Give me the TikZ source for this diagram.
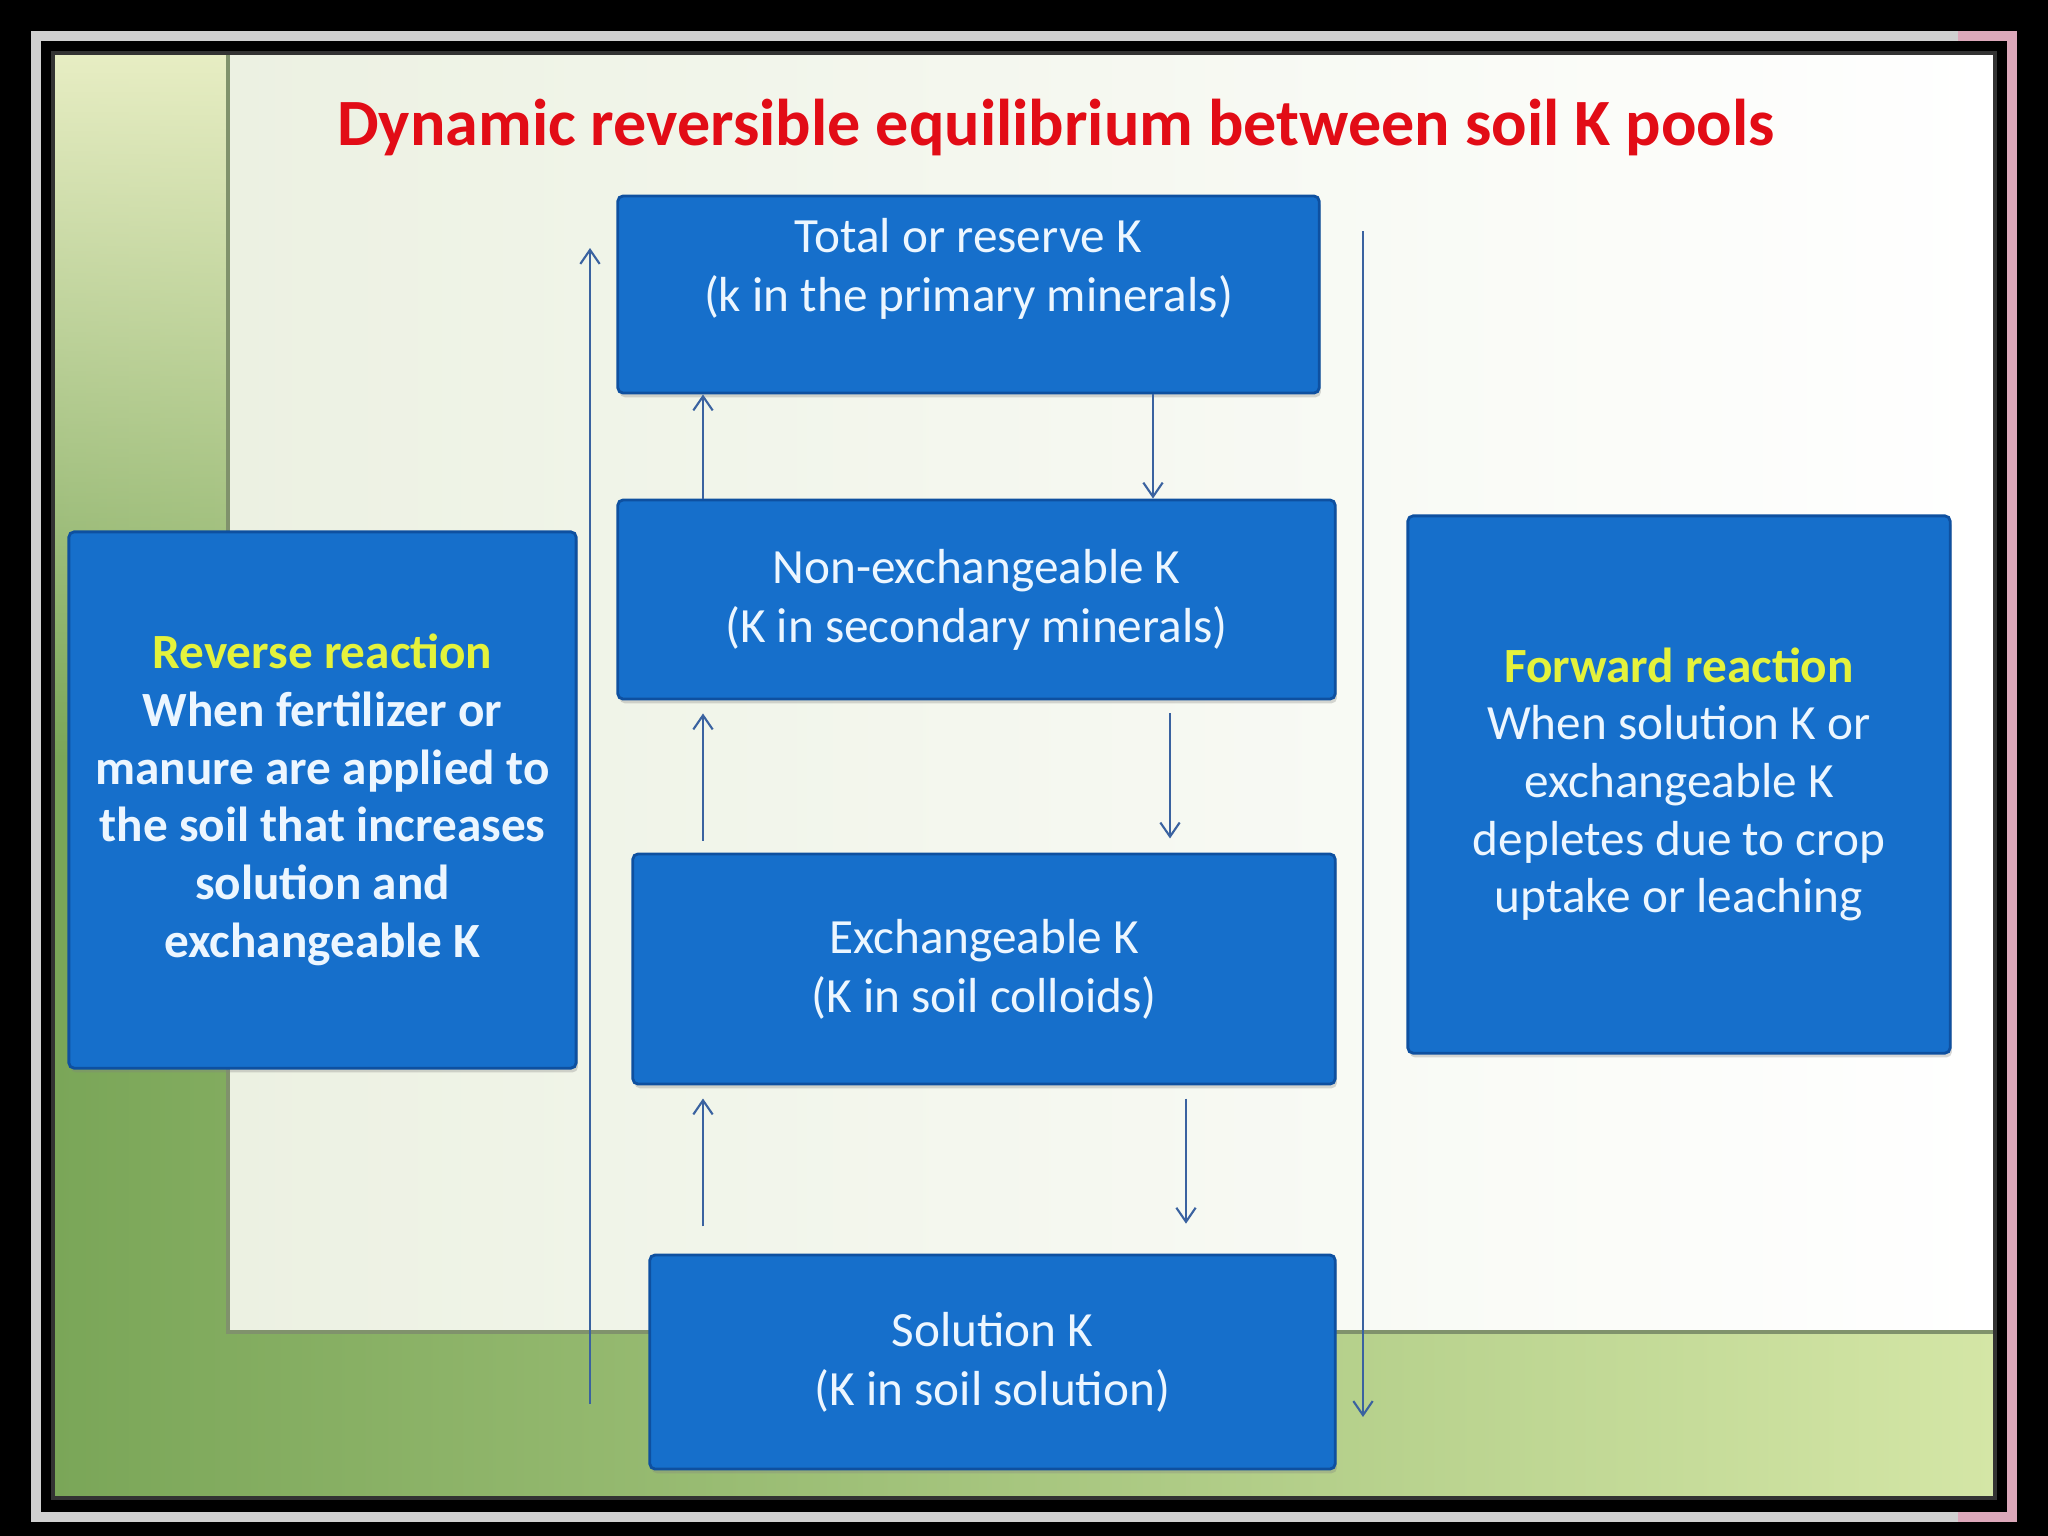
\documentclass[tikz,border=0pt]{standalone}
\usepackage{fontspec}
\setmainfont{Carlito}
\usetikzlibrary{arrows.meta,fadings,shadows}

\definecolor{poolblue}{RGB}{22,111,203}
\definecolor{pooledge}{RGB}{14,80,160}
\definecolor{pooltext}{RGB}{236,246,255}
\definecolor{flowblue}{RGB}{58,98,160}
\definecolor{headred}{RGB}{226,12,22}
\definecolor{notelime}{RGB}{228,242,60}
\definecolor{leafdeep}{RGB}{122,166,88}
\definecolor{leafmist}{RGB}{228,234,218}
\definecolor{leafpale}{RGB}{212,230,166}
\definecolor{leafsun}{RGB}{232,238,196}
\definecolor{panelmist}{RGB}{236,241,226}
\definecolor{panelline}{RGB}{128,146,108}
\definecolor{framegray}{RGB}{208,208,208}
\definecolor{framepink}{RGB}{220,168,186}

\begin{document}
\begin{tikzpicture}[x=0.01cm, y=-0.01cm,
    pool/.style={draw=pooledge, fill=poolblue, line width=0.8pt, rounded corners=1.5pt,
                 text=pooltext, align=center, inner sep=0pt,
                 drop shadow={shadow xshift=0.5pt, shadow yshift=-1.2pt, opacity=0.3},
                 font=\fontsize{14}{16.8}\selectfont},
    note/.style={pool, font=\fontsize{14}{16.4}\selectfont},
    flow/.style={draw=flowblue, line width=0.6pt, -{Straight Barb[length=4pt,width=5.5pt]}}
]
\useasboundingbox (0,0) rectangle (2048,1536);

% frame round the slide
\fill[black] (0,0) rectangle (2048,1536);
\draw[framegray, line width=2.85pt] (1958,36) -- (36,36) -- (36,1517) -- (1958,1517);
\draw[framepink, line width=2.85pt] (1958,36) -- (2012,36) -- (2012,1517) -- (1958,1517);

% leafy background
\fill[left color=leafdeep, middle color=leafmist, right color=leafpale] (53,53) rectangle (1995,1498);
\fill[leafsun, path fading=south] (53,53) rectangle (228,760);
\fill[left color=panelmist, right color=white] (228,53) rectangle (1995,1332);
\draw[panelline, line width=1pt] (228,53) -- (228,1332) -- (1995,1332);
\draw[black!80, line width=1pt] (53,53) rectangle (1995,1498);

% title
\node[anchor=base, text=headred, font=\bfseries\fontsize{18.8}{22}\selectfont] (title) at (1056,145)
    {Dynamic reversible equilibrium between soil K pools};

% K pools
\node[pool, minimum width=7.01cm, minimum height=1.97cm] (total) at (968.5,294.5)
    {Total or reserve K\\(k in the primary minerals)\\~};
\node[pool, minimum width=7.17cm, minimum height=1.99cm] (nonexch) at (976.5,599.5)
    {Non-exchangeable K\\(K in secondary minerals)};
\node[pool, minimum width=7.02cm, minimum height=2.30cm] (exch) at (984,969)
    {Exchangeable K\\(K in soil colloids)};
\node[pool, minimum width=6.85cm, minimum height=2.14cm] (solution) at (992.5,1362)
    {Solution K\\(K in soil solution)};

% side notes
\node[note, minimum width=5.07cm, minimum height=5.36cm, font=\bfseries\fontsize{14}{16.4}\selectfont] (reverse) at (322.5,800)
    {\textcolor{notelime}{Reverse reaction}\\When fertilizer or\\manure are applied to\\the soil that increases\\solution and\\exchangeable K};
\node[note, minimum width=5.42cm, minimum height=5.37cm] (forward) at (1679,784.5)
    {\textcolor{notelime}{\bfseries Forward reaction}\\When solution K or\\exchangeable K\\depletes due to crop\\uptake or leaching};

% columns and ends of the long arrows
\coordinate (upcol) at (703,0);
\coordinate (downa) at (1153,0);
\coordinate (downb) at (1170,0);
\coordinate (downc) at (1186,0);
\coordinate (lowleft) at (590,1404);
\coordinate (highleft) at (590,248);
\coordinate (highright) at (1363,231);
\coordinate (lowright) at (1363,1417);

% arrows between pools
\draw[flow] (nonexch.north -| upcol) -- (total.south -| upcol);
\draw[flow] (total.south -| downa) -- (nonexch.north -| downa);
\draw[flow, shorten <=3.4pt, shorten >=3.7pt] (exch.north -| upcol) -- (nonexch.south -| upcol);
\draw[flow, shorten <=3.7pt, shorten >=4pt] (nonexch.south -| downb) -- (exch.north -| downb);
\draw[flow, shorten <=7.7pt, shorten >=3.7pt] (solution.north -| upcol) -- (exch.south -| upcol);
\draw[flow, shorten <=3.7pt, shorten >=8.5pt] (exch.south -| downc) -- (solution.north -| downc);

% long arrows
\draw[flow] (lowleft) -- (highleft);
\draw[flow] (highright) -- (lowright);
\end{tikzpicture}
\end{document}
